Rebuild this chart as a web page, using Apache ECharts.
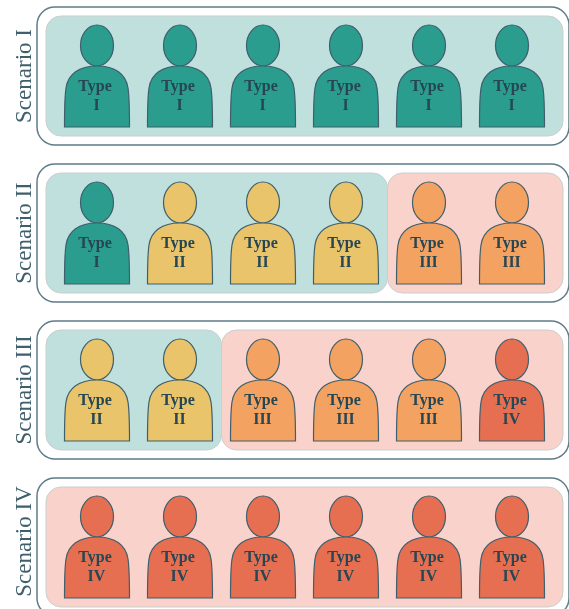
<!DOCTYPE html>
<html>
<head>
<meta charset="utf-8">
<style>
  html, body { margin: 0; padding: 0; background: #fff; }
  #chart { width: 569px; height: 609px; }
</style>
</head>
<body>
<div id="chart"></div>
<script src="https://cdn.jsdelivr.net/npm/echarts@6/dist/echarts.min.js"></script>
<script>
const scenarios = ['Scenario I', 'Scenario II', 'Scenario III', 'Scenario IV']
const columns = ['1', '2', '3', '4', '5', '6']
const typeNames = ['I', 'II', 'III', 'IV']
// type of each person, one list per scenario
const row1Types = [0, 0, 0, 0, 0, 0]
const row2Types = [0, 1, 1, 1, 2, 2]
const row3Types = [1, 1, 2, 2, 2, 3]
const row4Types = [3, 3, 3, 3, 3, 3]
// shaded groups: scenario, first column, last column, tone
const groups = [
  [0, 0, 5, 0],
  [1, 0, 3, 0],
  [1, 4, 5, 1],
  [2, 0, 1, 0],
  [2, 2, 5, 1],
  [3, 0, 5, 1]
]

const typeColors = ['#2a9d8f', '#e9c46a', '#f4a261', '#e76f51']
const toneColors = ['#bfe0dc', '#f9d3cb']
const dark = '#264653'

let people = []
;[row1Types, row2Types, row3Types, row4Types].forEach((list, row) => {
  list.forEach((t, col) => people.push([col, row, t]))
})

// rounded frame around each scenario
function renderFrame (params, api) {
  let c = api.coord([0, api.value(0)])
  return {
    type: 'rect',
    shape: { x: c[0] - 60, y: c[1] - 69, width: 532, height: 138, r: 18 },
    style: { fill: '#fff', stroke: '#5f7c88', lineWidth: 1.5 }
  }
}

function renderGroup (params, api) {
  let band = api.size([1, 1])[0]
  let first = api.value(1)
  let last = api.value(2)
  let c1 = api.coord([first, api.value(0)])
  let c2 = api.coord([last, api.value(0)])
  let left = first === 0 ? c1[0] - 51 : c1[0] - band / 2
  let right = last === columns.length - 1 ? c2[0] + 51 : c2[0] + band / 2
  return {
    type: 'rect',
    shape: { x: left, y: c1[1] - 60, width: right - left, height: 120, r: 15 },
    style: { fill: toneColors[api.value(3)], stroke: '#c9cfcd', lineWidth: 1 }
  }
}

function renderPerson (params, api) {
  let c = api.coord([api.value(0), api.value(1)])
  let t = api.value(2)
  let line = { fill: typeColors[t], stroke: '#3f5f6c', lineWidth: 1.2 }
  return {
    type: 'group',
    x: c[0],
    y: c[1],
    children: [
      { type: 'ellipse', shape: { cx: 0, cy: -30.5, rx: 16.5, ry: 20.5 }, style: line },
      {
        type: 'path',
        shape: {
          pathData: 'M-32.5 51C-32.5 35 -32.5 22 -31 12C-29 -2 -18 -10 0 -10C18 -10 29 -2 31 12C32.5 22 32.5 35 32.5 51Z',
          x: -32.5, y: -10, width: 65, height: 61
        },
        style: line
      },
      {
        type: 'text',
        style: {
          x: -2, y: 11, text: 'Type', fill: dark, align: 'center', verticalAlign: 'middle',
          font: 'bold 16px "Liberation Serif"'
        }
      },
      {
        type: 'text',
        style: {
          x: -0.5, y: 30, text: typeNames[t], fill: dark, align: 'center', verticalAlign: 'middle',
          font: 'bold 16px "Liberation Serif"'
        }
      }
    ]
  }
}

const labelFont = { color: '#3f5f6c', fontFamily: 'Liberation Serif', fontSize: 23 }

echarts.init(document.getElementById('chart'), null, { renderer: 'canvas' }).setOption({
  animation: false,
  backgroundColor: '#fff',
  grid: { left: 55.5, top: -2.5, width: 498, height: 628, outerBoundsMode: 'none' },
  xAxis: { type: 'category', data: columns, show: false },
  yAxis: {
    type: 'category',
    data: scenarios,
    inverse: true,
    axisLine: { show: false },
    axisTick: { show: false },
    axisLabel: {
      interval: 0,
      rotate: 90,
      margin: 19,
      ...labelFont,
      // the last label sits a little above its row
      formatter: (v, i) => i === scenarios.length - 1 ? '{up|' + v + '}' : v,
      rich: { up: { ...labelFont, padding: [0, 0, 0, 11] } }
    }
  },
  series: [
    { type: 'custom', renderItem: renderFrame, data: scenarios.map((s, i) => [i]), encode: { y: 0 }, silent: true },
    { type: 'custom', renderItem: renderGroup, data: groups, encode: { x: 1, y: 0 }, silent: true },
    { type: 'custom', renderItem: renderPerson, data: people, encode: { x: 0, y: 1 }, silent: true }
  ]
})
</script>
</body>
</html>
